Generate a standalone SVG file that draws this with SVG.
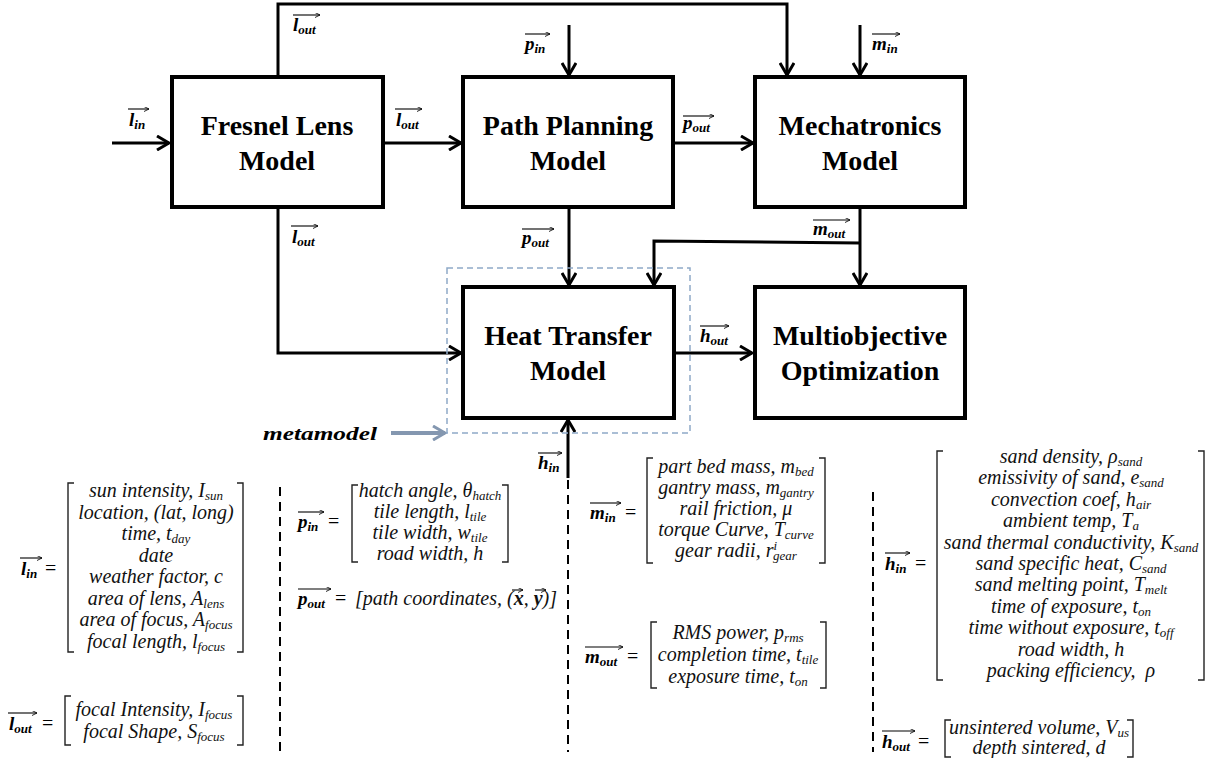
<svg xmlns="http://www.w3.org/2000/svg" width="1207" height="758" viewBox="0 0 1207 758">
<defs>
<style>
.box{fill:#fff;stroke:#000;stroke-width:4}
.bt{font-family:"Liberation Serif",serif;font-weight:bold;font-size:28px;text-anchor:middle;fill:#000}
.c{fill:none;stroke:#000;stroke-width:3;marker-end:url(#arr)}
.m{font-family:"Liberation Serif",serif;font-style:italic;font-size:20px;text-anchor:middle;fill:#111}
.ms{font-family:"Liberation Serif",serif;font-style:italic;font-size:20px;text-anchor:start;fill:#111}
.v{font-family:"Liberation Serif",serif;font-style:italic;font-weight:bold;font-size:19px;fill:#000}
.eq{font-family:"Liberation Serif",serif;font-size:20px;fill:#000}
.s{font-size:13px}
.br{fill:none;stroke:#222;stroke-width:1.4}
.ov{stroke:#000;stroke-width:1.1;marker-end:url(#oa)}
.sep{stroke:#000;stroke-width:2;stroke-dasharray:9 6}
</style>
<marker id="arr" viewBox="0 0 16 16" refX="14" refY="8" markerWidth="16" markerHeight="16" markerUnits="userSpaceOnUse" orient="auto">
<path d="M2,1 L14,8 L2,15" fill="none" stroke="#000" stroke-width="3"/>
</marker>
<marker id="arrb" viewBox="0 0 16 16" refX="14" refY="8" markerWidth="16" markerHeight="16" markerUnits="userSpaceOnUse" orient="auto">
<path d="M2,1 L14,8 L2,15" fill="none" stroke="#8497B0" stroke-width="3"/>
</marker>
<marker id="oa" viewBox="0 0 6 6" refX="6" refY="3" markerWidth="5" markerHeight="5" markerUnits="userSpaceOnUse" orient="auto">
<path d="M0,0 L6,3 L0,6" fill="none" stroke="#000" stroke-width="1"/>
</marker>
</defs>
<rect width="1207" height="758" fill="#fff"/>

<g id="connectors">
<path class="c" d="M112,143 H169"/>
<path class="c" d="M385,143 H461"/>
<path class="c" d="M675,143 H753"/>
<path class="c" d="M278,75 V4 H787 V75"/>
<path class="c" d="M569,25 V75"/>
<path class="c" d="M860,25 V75"/>
<path class="c" d="M278,209 V353 H461"/>
<path class="c" d="M569,209 V285"/>
<path class="c" d="M860,209 V285"/>
<path class="c" d="M860,243 L654,241 V285"/>
<path class="c" d="M676,353 H752"/>
<path class="c" d="M568,478 V420"/>
<path d="M391,433 H445" fill="none" stroke="#8497B0" stroke-width="4" marker-end="url(#arrb)"/>
</g>

<g id="metamodel">
<rect x="447" y="268" width="243" height="165" fill="none" stroke="#8EA9C8" stroke-width="1.5" stroke-dasharray="6 4"/>
<text x="263" y="440" class="v" font-size="23" textLength="114" lengthAdjust="spacingAndGlyphs">metamodel</text>
</g>

<g id="fresnel"><rect class="box" x="172" y="77" width="211" height="130"/><text class="bt" x="277" y="135">Fresnel Lens</text><text class="bt" x="277" y="170">Model</text></g>
<g id="path-planning"><rect class="box" x="463" y="77" width="210" height="130"/><text class="bt" x="568" y="135">Path Planning</text><text class="bt" x="568" y="170">Model</text></g>
<g id="mechatronics"><rect class="box" x="755" y="77" width="210" height="130"/><text class="bt" x="860" y="135">Mechatronics</text><text class="bt" x="860" y="170">Model</text></g>
<g id="heat-transfer"><rect class="box" x="463" y="287" width="211" height="131"/><text class="bt" x="568" y="345">Heat Transfer</text><text class="bt" x="568" y="380">Model</text></g>
<g id="multiobjective"><rect class="box" x="755" y="287" width="210" height="131"/><text class="bt" x="860" y="345">Multiobjective</text><text class="bt" x="860" y="380">Optimization</text></g>

<g id="connector-labels">
<text class="v" x="293" y="31">l<tspan class="s" dy="3">out</tspan></text><line class="ov" x1="293" y1="15" x2="320" y2="15"/>
<text class="v" x="129" y="126">l<tspan class="s" dy="3">in</tspan></text><line class="ov" x1="128" y1="109" x2="149" y2="109"/>
<text class="v" x="396" y="126">l<tspan class="s" dy="3">out</tspan></text><line class="ov" x1="395" y1="109" x2="422" y2="109"/>
<text class="v" x="292" y="243">l<tspan class="s" dy="3">out</tspan></text><line class="ov" x1="291" y1="226" x2="318" y2="226"/>
<text class="v" x="525" y="50">p<tspan class="s" dy="3">in</tspan></text><line class="ov" x1="525" y1="34" x2="550" y2="34"/>
<text class="v" x="683" y="129">p<tspan class="s" dy="3">out</tspan></text><line class="ov" x1="683" y1="116" x2="714" y2="116"/>
<text class="v" x="872" y="50">m<tspan class="s" dy="3">in</tspan></text><line class="ov" x1="872" y1="34" x2="900" y2="34"/>
<text class="v" x="522" y="244">p<tspan class="s" dy="3">out</tspan></text><line class="ov" x1="522" y1="229" x2="554" y2="229"/>
<text class="v" x="813" y="235">m<tspan class="s" dy="3">out</tspan></text><line class="ov" x1="813" y1="220" x2="850" y2="220"/>
<text class="v" x="700" y="342">h<tspan class="s" dy="3">out</tspan></text><line class="ov" x1="700" y1="326" x2="729" y2="326"/>
<text class="v" x="538" y="469">h<tspan class="s" dy="3">in</tspan></text><line class="ov" x1="538" y1="453" x2="562" y2="453"/>
</g>

<g id="separators">
<line class="sep" x1="280" y1="487" x2="280" y2="752"/>
<line class="sep" x1="568" y1="480" x2="568" y2="752"/>
<line class="sep" x1="873" y1="492" x2="873" y2="752"/>
</g>

<g id="eq-l-in">
<text class="v" x="21" y="575">l<tspan class="s" dy="3">in</tspan></text><line class="ov" x1="20" y1="558" x2="42" y2="558"/>
<text class="eq" x="45" y="575">=</text>
<path class="br" d="M74,483 H68 V652 H74 M237,483 H243 V652 H237"/>
<text class="m" x="156" y="497">sun intensity, I<tspan class="s" dy="3">sun</tspan></text>
<text class="m" x="156" y="518.5">location, (lat, long)</text>
<text class="m" x="156" y="540">time, t<tspan class="s" dy="3">day</tspan></text>
<text class="m" x="156" y="561.5">date</text>
<text class="m" x="156" y="583">weather factor, c</text>
<text class="m" x="156" y="604.5">area of lens, A<tspan class="s" dy="3">lens</tspan></text>
<text class="m" x="156" y="626">area of focus, A<tspan class="s" dy="3">focus</tspan></text>
<text class="m" x="156" y="647.5">focal length, l<tspan class="s" dy="3">focus</tspan></text>
</g>

<g id="eq-l-out">
<text class="v" x="9" y="730">l<tspan class="s" dy="3">out</tspan></text><line class="ov" x1="8" y1="713" x2="37" y2="713"/>
<text class="eq" x="42" y="730">=</text>
<path class="br" d="M71,696 H65 V745 H71 M237,696 H243 V745 H237"/>
<text class="m" x="154" y="716">focal Intensity, I<tspan class="s" dy="3">focus</tspan></text>
<text class="m" x="154" y="738">focal Shape, S<tspan class="s" dy="3">focus</tspan></text>
</g>

<g id="eq-p-in">
<text class="v" x="298" y="528">p<tspan class="s" dy="3">in</tspan></text><line class="ov" x1="298" y1="512" x2="324" y2="512"/>
<text class="eq" x="328" y="528">=</text>
<path class="br" d="M358,485 H352 V562 H358 M502,485 H508 V562 H502"/>
<text class="m" x="430" y="497">hatch angle, θ<tspan class="s" dy="3">hatch</tspan></text>
<text class="m" x="430" y="518">tile length, l<tspan class="s" dy="3">tile</tspan></text>
<text class="m" x="430" y="539">tile width, w<tspan class="s" dy="3">tile</tspan></text>
<text class="m" x="430" y="560">road width, h</text>
</g>

<g id="eq-p-out">
<text class="v" x="298" y="605">p<tspan class="s" dy="3">out</tspan></text><line class="ov" x1="298" y1="589" x2="331" y2="589"/>
<text class="eq" x="335" y="605">=</text>
<text class="ms" x="355" y="605">[path coordinates, (<tspan font-weight="bold">x</tspan>, <tspan font-weight="bold">y</tspan>)]</text>
<line class="ov" x1="512" y1="590" x2="523" y2="590"/>
<line class="ov" x1="535" y1="590" x2="546" y2="590"/>
</g>

<g id="eq-m-in">
<text class="v" x="590" y="519">m<tspan class="s" dy="3">in</tspan></text><line class="ov" x1="590" y1="503" x2="621" y2="503"/>
<text class="eq" x="625" y="519">=</text>
<path class="br" d="M653,458 H647 V563 H653 M819,458 H825 V563 H819"/>
<text class="m" x="736" y="473">part bed mass, m<tspan class="s" dy="3">bed</tspan></text>
<text class="m" x="736" y="494">gantry mass, m<tspan class="s" dy="3">gantry</tspan></text>
<text class="m" x="736" y="515">rail friction, μ</text>
<text class="m" x="736" y="536">torque Curve, T<tspan class="s" dy="3">curve</tspan></text>
<text class="m" x="736" y="557">gear radii, r<tspan class="s" dy="-7">i</tspan><tspan class="s" dx="-4" dy="10">gear</tspan></text>
</g>

<g id="eq-m-out">
<text class="v" x="585" y="663">m<tspan class="s" dy="3">out</tspan></text><line class="ov" x1="585" y1="647" x2="623" y2="647"/>
<text class="eq" x="627" y="663">=</text>
<path class="br" d="M657,622 H651 V688 H657 M820,622 H826 V688 H820"/>
<text class="m" x="738" y="639">RMS power, p<tspan class="s" dy="3">rms</tspan></text>
<text class="m" x="738" y="661">completion time, t<tspan class="s" dy="3">tile</tspan></text>
<text class="m" x="738" y="683">exposure time, t<tspan class="s" dy="3">on</tspan></text>
</g>

<g id="eq-h-in">
<text class="v" x="885" y="570">h<tspan class="s" dy="3">in</tspan></text><line class="ov" x1="885" y1="553" x2="910" y2="553"/>
<text class="eq" x="915" y="570">=</text>
<path class="br" d="M943,451 H937 V680 H943 M1198,451 H1204 V680 H1198"/>
<text class="m" x="1071" y="463">sand density, ρ<tspan class="s" dy="3">sand</tspan></text>
<text class="m" x="1071" y="484.4">emissivity of sand, e<tspan class="s" dy="3">sand</tspan></text>
<text class="m" x="1071" y="505.8">convection coef, h<tspan class="s" dy="3">air</tspan></text>
<text class="m" x="1071" y="527.2">ambient temp, T<tspan class="s" dy="3">a</tspan></text>
<text class="m" x="1071" y="548.6">sand thermal conductivity, K<tspan class="s" dy="3">sand</tspan></text>
<text class="m" x="1071" y="570">sand specific heat, C<tspan class="s" dy="3">sand</tspan></text>
<text class="m" x="1071" y="591.4">sand melting point, T<tspan class="s" dy="3">melt</tspan></text>
<text class="m" x="1071" y="612.8">time of exposure, t<tspan class="s" dy="3">on</tspan></text>
<text class="m" x="1071" y="634.2">time without exposure, t<tspan class="s" dy="3">off</tspan></text>
<text class="m" x="1071" y="655.6">road width, h</text>
<text class="m" x="1071" y="677">packing efficiency,&#160; ρ</text>
</g>

<g id="eq-h-out">
<text class="v" x="882" y="748">h<tspan class="s" dy="3">out</tspan></text><line class="ov" x1="882" y1="731" x2="915" y2="731"/>
<text class="eq" x="918" y="748">=</text>
<path class="br" d="M951,720 H945 V757 H951 M1127,720 H1133 V757 H1127"/>
<text class="m" x="1039" y="734">unsintered volume, V<tspan class="s" dy="3">us</tspan></text>
<text class="m" x="1039" y="754">depth sintered, d</text>
</g>
</svg>
